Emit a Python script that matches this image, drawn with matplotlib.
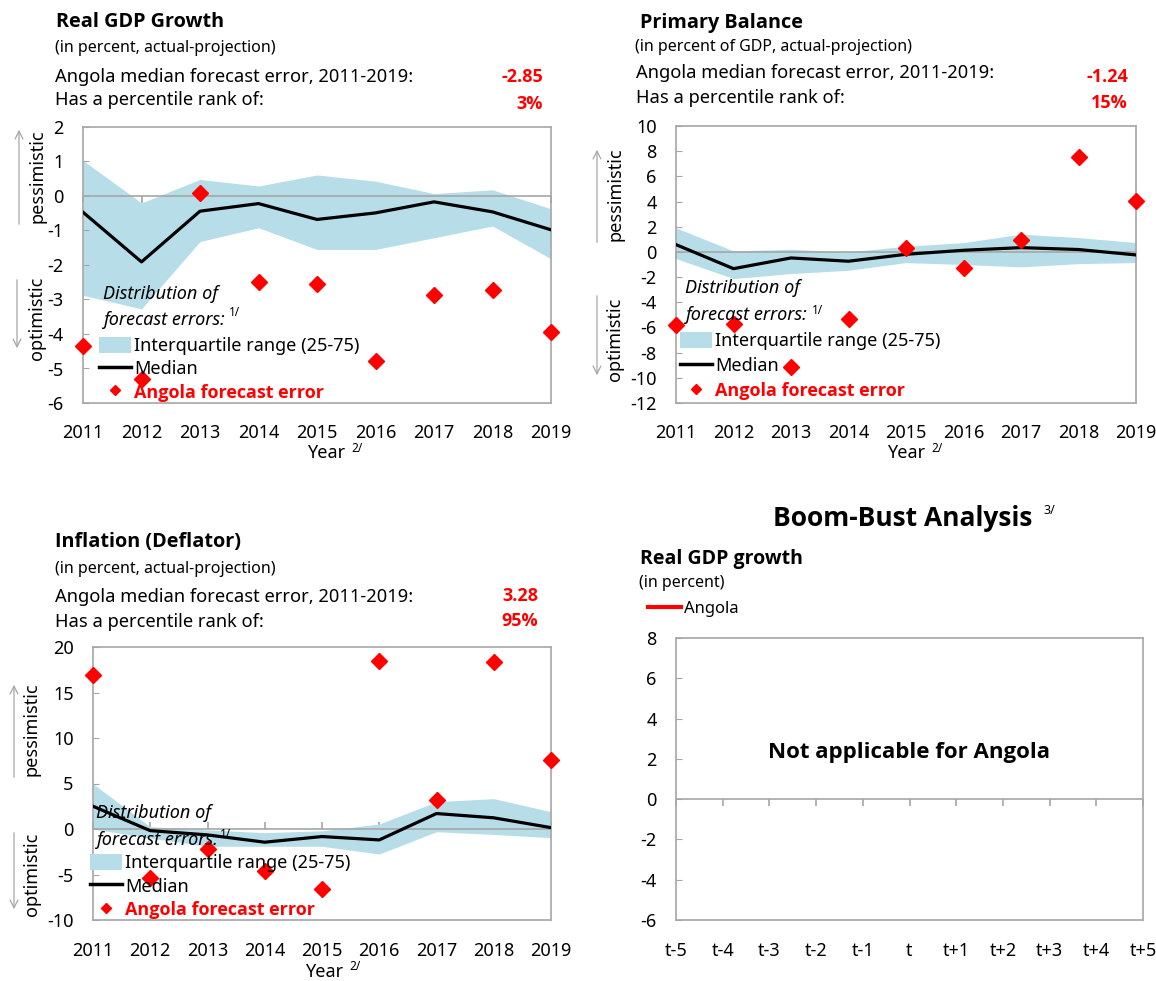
import matplotlib
matplotlib.use("Agg")
import matplotlib.pyplot as plt
from matplotlib import font_manager as fm
from matplotlib.patches import Patch, FancyArrowPatch
from matplotlib.lines import Line2D

# ---------------- data ----------------
years = [2011, 2012, 2013, 2014, 2015, 2016, 2017, 2018, 2019]

gdp_p25 = [-2.88, -3.27, -1.32, -0.92, -1.55, -1.55, -1.21, -0.87, -1.82]
gdp_p75 = [1.03, -0.20, 0.48, 0.29, 0.61, 0.43, 0.07, 0.18, -0.37]
gdp_median = [-0.47, -1.91, -0.44, -0.22, -0.68, -0.49, -0.17, -0.46, -0.98]
gdp_angola = [-4.34, -5.30, 0.08, -2.48, -2.55, -4.77, -2.86, -2.73, -3.93]

pb_p25 = [-0.53, -2.12, -1.72, -1.46, -0.85, -1.00, -1.19, -0.93, -0.85]
pb_p75 = [1.91, 0.08, 0.21, 0.00, 0.45, 0.74, 1.41, 1.14, 0.74]
pb_median = [0.58, -1.33, -0.48, -0.74, -0.19, 0.13, 0.34, 0.19, -0.24]
pb_angola = [-5.78, -5.70, -9.15, -5.30, 0.32, -1.25, 0.93, 7.56, 4.06]

inf_p25 = [0.0, -1.00, -1.90, -1.90, -1.90, -2.75, -0.30, -0.60, -0.95]
inf_p75 = [4.97, 0.25, -0.10, -0.40, -0.20, 0.55, 3.00, 3.34, 1.90]
inf_median = [2.50, -0.18, -0.65, -1.45, -0.83, -1.20, 1.70, 1.23, 0.15]
inf_angola = [16.90, -5.37, -2.20, -4.57, -6.64, 18.46, 3.23, 18.32, 7.62]

boom_labels = ['t-5', 't-4', 't-3', 't-2', 't-1', 't', 't+1', 't+2', 't+3', 't+4', 't+5']
boom_angola = []  # not applicable

gdp_stats = ['-2.85', '3%']
pb_stats = ['-1.24', '15%']
inf_stats = ['3.28', '95%']


# ---------------- fonts ----------------
def _w(f):
    w = f.weight
    if isinstance(w, str):
        w = fm.weight_dict.get(w, 400)
    return w


def _has(name, bold=False, italic=False):
    for f in fm.fontManager.ttflist:
        if f.name != name:
            continue
        if bold and _w(f) < 600:
            continue
        if italic and f.style not in ('italic', 'oblique'):
            continue
        if not bold and _w(f) >= 600:
            continue
        return True
    return False


CANDS = ['Noto Sans', 'Open Sans', 'Lato', 'Roboto', 'Liberation Sans', 'DejaVu Sans']
REG = next((c for c in CANDS if _has(c)), 'DejaVu Sans')
BOLD = next((c for c in CANDS if _has(c, bold=True)), 'DejaVu Sans')
ITAL = next((c for c in CANDS if _has(c, italic=True)), 'DejaVu Sans')
plt.rcParams['font.family'] = [REG, 'DejaVu Sans']

# ---------------- style ----------------
W, H = 1156, 981
BAND = '#B7DEE8'
GRAY = '#A6A6A6'
RED = '#FF0000'

fig = plt.figure(figsize=(W / 100, H / 100), dpi=100)


def fx(x):
    return x / W


def fy(y):
    return 1 - y / H


def T(x, y, s, bold=False, italic=False, **kw):
    kw.setdefault('va', 'center')
    kw.setdefault('ha', 'left')
    if bold:
        kw['family'] = [BOLD, 'DejaVu Sans']
        kw['fontweight'] = 'bold'
    if italic:
        kw['family'] = [ITAL, 'DejaVu Sans']
        kw['style'] = 'italic'
    return fig.text(fx(x), fy(y), s, **kw)


def arrow(x, y0, y1):
    fig.add_artist(FancyArrowPatch((fx(x), fy(y0)), (fx(x), fy(y1)),
                                   transform=fig.transFigure, arrowstyle='->',
                                   mutation_scale=14, color=GRAY, lw=0.9))


def make_axes(l, t, r, b):
    ax = fig.add_axes([l / W, 1 - b / H, (r - l) / W, (b - t) / H])
    for sp in ax.spines.values():
        sp.set_color(GRAY)
        sp.set_linewidth(1.2)
    return ax


def zero_ticks(ax, pos, frac, direction):
    sec = ax.secondary_xaxis(frac)
    sec.set_xticks(pos)
    sec.set_xticklabels([])
    sec.tick_params(direction=direction, length=5, color=GRAY, width=1.2,
                    labelbottom=False, labeltop=False)
    for sp in sec.spines.values():
        sp.set_visible(False)


def forecast_panel(rect, p25, p75, med, ang, ylim, yticks, hdr, stats, pes, opt,
                   leg, xlabpad, yearpos):
    ax = make_axes(*rect)
    ax.fill_between(years, p25, p75, color=BAND, lw=0, zorder=1)
    ax.axhline(0, color=GRAY, lw=1.2, zorder=2)
    ax.plot(years, med, color='black', lw=2.3, zorder=3)
    ax.plot(years, ang, ls='none', marker='D', ms=8, color=RED, mec=RED,
            zorder=4, clip_on=False)
    ax.set_xlim(years[0], years[-1])
    ax.set_ylim(*ylim)
    ax.set_xticks(years)
    ax.set_xticklabels([str(y) for y in years])
    ax.set_yticks(yticks)
    ax.set_yticklabels([str(v) for v in yticks])
    ax.tick_params(axis='x', length=0, pad=xlabpad, labelsize=13, colors='black')
    ax.tick_params(axis='y', direction='in', length=4, color=GRAY, pad=14,
                   labelsize=13)
    frac = (0 - ylim[0]) / (ylim[1] - ylim[0])
    zero_ticks(ax, years, frac, 'in')

    # header texts
    (tx, ty, title), (sx, sy, sub), (lx, l1y, l2y), (nx, n1y, n2y) = hdr
    T(tx, ty, title, bold=True, fontsize=14.3)
    T(sx, sy, sub, fontsize=11.5)
    T(lx, l1y, 'Angola median forecast error, 2011-2019:', fontsize=13.2)
    T(lx, l2y, 'Has a percentile rank of:', fontsize=13.2)
    T(nx, n1y, stats[0], bold=True, fontsize=13, color=RED, ha='right')
    T(nx, n2y, stats[1], bold=True, fontsize=13, color=RED, ha='right')

    # pessimistic / optimistic
    (ptx, pty, pax, pa0, pa1) = pes
    (otx, oty, oax, oa0, oa1) = opt
    T(ptx, pty, 'pessimistic', fontsize=13, rotation=90, ha='center')
    T(otx, oty, 'optimistic', fontsize=13, rotation=90, ha='center')
    arrow(pax, pa0, pa1)
    arrow(oax, oa0, oa1)

    # legend
    (dx, dy1, dy2, supx, supy, hx, row1, lsp) = leg
    T(dx, dy1, 'Distribution of', italic=True, fontsize=13)
    T(dx, dy2, 'forecast errors:', italic=True, fontsize=13)
    T(supx, supy, '1/', fontsize=8.5)
    handles = [Patch(facecolor=BAND, edgecolor='none'),
               Line2D([], [], color='black', lw=2.5),
               Line2D([], [], ls='none', marker='D', ms=5, color=RED)]
    labels = ['Interquartile range (25-75)', 'Median', 'Angola forecast error']
    lg = ax.legend(handles, labels, loc='upper left',
                   bbox_to_anchor=(fx(hx), fy(row1 - 8)),
                   bbox_transform=fig.transFigure, frameon=False,
                   fontsize=13, borderpad=0, borderaxespad=0,
                   handlelength=1.75, handletextpad=0.2, labelspacing=lsp,
                   handleheight=1.0)
    t3 = lg.get_texts()[2]
    t3.set_color(RED)
    t3.set_fontfamily([BOLD, 'DejaVu Sans'])
    t3.set_fontweight('bold')

    # Year label
    yx, yy = yearpos
    T(yx, yy, 'Year', fontsize=13)
    T(yx + 44, yy - 5, '2/', fontsize=8.5)
    return ax


# Real GDP growth
forecast_panel((83, 127, 551, 403), gdp_p25, gdp_p75, gdp_median, gdp_angola,
               (-6, 2), list(range(-6, 3)),
               ((56, 22, 'Real GDP Growth'), (55, 48, '(in percent, actual-projection)'),
                (55, 77, 100), (543, 77, 104)),
               gdp_stats,
               (37, 176, 19, 227, 127), (37, 318, 17, 277, 351),
               (103, 294, 320, 229, 313, 99, 345, 0.27), 15, (307, 453))

# Primary balance
forecast_panel((676, 126, 1136, 403), pb_p25, pb_p75, pb_median, pb_angola,
               (-12, 10), list(range(-12, 11, 2)),
               ((640, 23, 'Primary Balance'),
                (635, 47, '(in percent of GDP, actual-projection)'),
                (636, 73, 98), (1128, 77, 103)),
               pb_stats,
               (615, 194, 597, 245, 147), (615, 339, 597, 293, 378),
               (685, 288, 315, 812, 310, 680, 340, 0.36), 15, (887, 453))

# Inflation
forecast_panel((93, 647, 551, 920), inf_p25, inf_p75, inf_median, inf_angola,
               (-10, 20), list(range(-10, 21, 5)),
               ((55, 542, 'Inflation (Deflator)'),
                (55, 569, '(in percent, actual-projection)'),
                (55, 597, 622), (538, 596, 621)),
               inf_stats,
               (32, 729, 14, 780, 682), (32, 874, 14, 830, 912),
               (96, 813, 840, 220, 834, 90, 862, 0.28), 16, (305, 972))

# Boom-bust panel
axb = make_axes(676, 638, 1143, 920)
xpos = list(range(len(boom_labels)))
axb.plot(xpos[:len(boom_angola)], boom_angola, color=RED, lw=3, label='Angola')
axb.axhline(0, color=GRAY, lw=1.2, zorder=2)
axb.set_xlim(xpos[0], xpos[-1])
axb.set_ylim(-6, 8)
axb.set_yticks(list(range(-6, 9, 2)))
axb.set_yticklabels([str(v) for v in range(-6, 9, 2)])
axb.set_xticks(xpos)
axb.set_xticklabels(boom_labels)
axb.tick_params(axis='x', length=0, pad=16, labelsize=13)
axb.tick_params(axis='y', direction='in', length=4, color=GRAY, pad=14, labelsize=13)
zero_ticks(axb, xpos, 6 / 14, 'out')
axb.legend(loc='upper left', bbox_to_anchor=(fx(648), fy(611 - 10)),
           bbox_transform=fig.transFigure, frameon=False, fontsize=12,
           borderpad=0, borderaxespad=0, handlelength=2.0, handletextpad=0.15)
axb.text(0.5, 0.595, 'Not applicable for Angola', transform=axb.transAxes,
         ha='center', va='center', fontsize=16, fontweight='bold',
         family=[BOLD, 'DejaVu Sans'])

T(773, 518, 'Boom-Bust Analysis', bold=True, fontsize=19)
T(1043, 510, '3/', fontsize=9)
T(640, 559, 'Real GDP growth', bold=True, fontsize=14)
T(639, 583, '(in percent)', fontsize=11.5)

fig.savefig('out.png', dpi=100)
